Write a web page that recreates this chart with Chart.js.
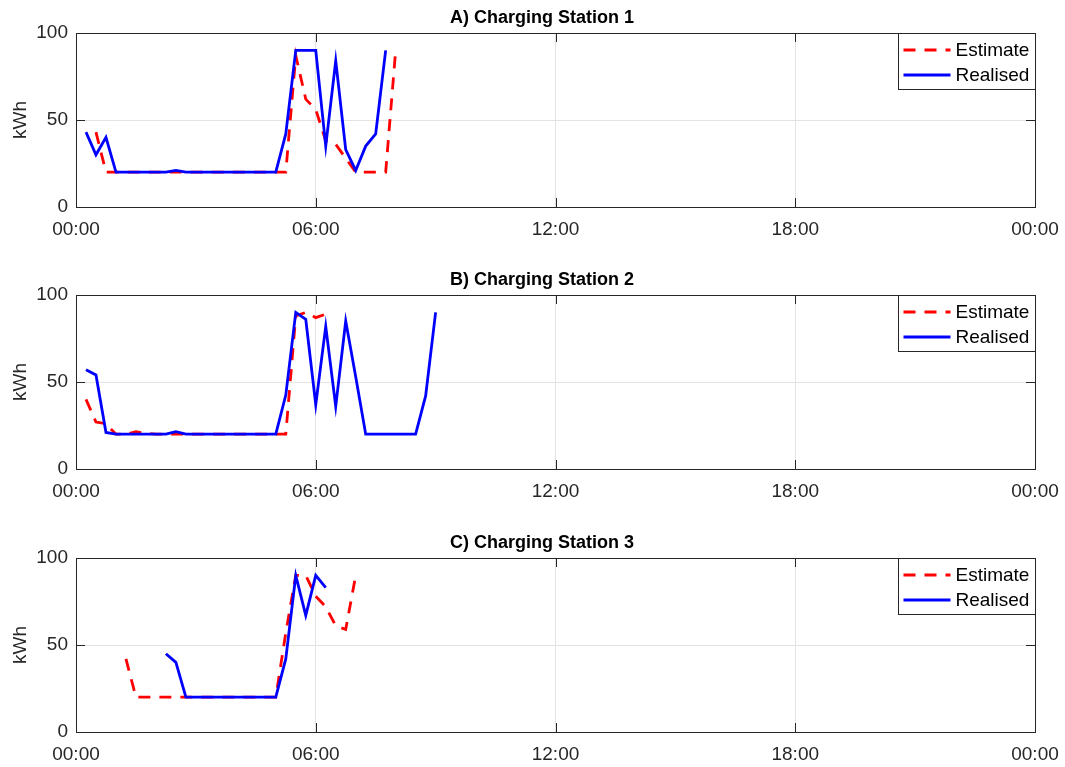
<!DOCTYPE html>
<html>
<head>
<meta charset="utf-8">
<title>Charging stations</title>
<script src="https://cdn.jsdelivr.net/npm/chart.js@4.4.1/dist/chart.umd.min.js"></script>
<style>
    html, body { margin: 0; padding: 0; background: #fff; }
    #wrap { position: relative; width: 1065px; height: 767px; }
    .panel { position: absolute; left: 0; width: 1065px; height: 241px; }
</style>
</head>
<body>
<div id="wrap">
    <div class="panel" style="top:0px"><canvas id="station-1"></canvas></div>
    <div class="panel" style="top:262px"><canvas id="station-2"></canvas></div>
    <div class="panel" style="top:525px"><canvas id="station-3"></canvas></div>
</div>
<script>
// quarter-hour time stamps of the first nine hours
const times = ['00:15', '00:30', '00:45', '01:00', '01:15', '01:30', '01:45', '02:00', '02:15',
    '02:30', '02:45', '03:00', '03:15', '03:30', '03:45', '04:00', '04:15', '04:30', '04:45',
    '05:00', '05:15', '05:30', '05:45', '06:00', '06:15', '06:30', '06:45', '07:00', '07:15',
    '07:30', '07:45', '08:00', '08:15', '08:30', '08:45', '09:00'];

const xTicks = [0, 6, 12, 18, 24];
const xTickLabels = ['00:00', '06:00', '12:00', '18:00', '00:00'];
const yTicks = [0, 50, 100];

const stationTitles = ['A) Charging Station 1', 'B) Charging Station 2', 'C) Charging Station 3'];
const seriesNames = ['Estimate', 'Realised'];

// kWh per quarter hour, null = no value
const station1Estimate = [null, 43, 20, 20, 20, 20, 20, 20, 20, 20, 20, 20, 20, 20, 20, 20, 20, 20,
    20, 20, 20, 87, 62, 56, 38, 36, 28, 20, 20, 20, 20, 90, null, null, null, null];
const station1Realised = [43, 30, 40, 20, 20, 20, 20, 20, 20, 21, 20, 20, 20, 20, 20, 20, 20, 20,
    20, 20, 42, 90, 90, 90, 35, 84, 33, 21, 35, 42, 90, null, null, null, null, null];

const station2Estimate = [40, 27, 26, 20, 20, 21.5, 20.5, 20, 20, 20, 20, 20, 20, 20, 20, 20, 20, 20,
    20, 20, 20, 88, 90, 87, 89, null, null, null, null, null, null, null, null, null, null, null];
const station2Realised = [57, 54, 21, 20, 20, 20, 20, 20, 20, 21.5, 20, 20, 20, 20, 20, 20, 20, 20,
    20, 20, 42.5, 90, 86, 37, 82, 36, 85, 53, 20, 20, 20, 20, 20, 20, 42, 90];

const station3Estimate = [null, null, null, null, 42, 20, 20, 20, 20, 20, 20, 20, 20, 20, 20, 20, 20, 20,
    20, 20, 57, 90, 90, 78, 72, 61, 59, 90, null, null, null, null, null, null, null, null];
const station3Realised = [null, null, null, null, null, null, null, null, 45, 40, 20, 20, 20, 20, 20, 20, 20, 20,
    20, 20, 42, 90, 67, 90, 83, null, null, null, null, null, null, null, null, null, null, null];

const FONT = "'Liberation Sans', Arial, Helvetica, sans-serif";
const AXIS_COLOR = '#262626';

function toHours(t) {
    const parts = t.split(':');
    return Number(parts[0]) + Number(parts[1]) / 60;
}

function toPoints(values) {
    return values.map((v, i) => ({ x: toHours(times[i]), y: v }));
}

// title, box around the plot area, inner tick marks and the boxed legend
const matlabAxes = {
    id: 'matlabAxes',
    afterDraw(chart, args, opts) {
        const ctx = chart.ctx;
        const a = chart.chartArea;
        const xs = chart.scales.x;
        const ys = chart.scales.y;
        const tl = 9;

        ctx.save();
        ctx.fillStyle = '#000';
        ctx.font = 'bold 18px ' + FONT;
        ctx.textAlign = 'center';
        ctx.textBaseline = 'middle';
        ctx.fillText(opts.title, opts.titleX, a.top - 15);

        ctx.strokeStyle = AXIS_COLOR;
        ctx.lineWidth = 1;
        ctx.beginPath();
        xTicks.forEach(v => {
            const px = Math.round(xs.getPixelForValue(v)) + 0.5;
            ctx.moveTo(px, a.bottom); ctx.lineTo(px, a.bottom - tl);
            ctx.moveTo(px, a.top); ctx.lineTo(px, a.top + tl);
        });
        yTicks.forEach(v => {
            const py = Math.round(ys.getPixelForValue(v)) + 0.5;
            ctx.moveTo(a.left, py); ctx.lineTo(a.left + tl, py);
            ctx.moveTo(a.right, py); ctx.lineTo(a.right - tl, py);
        });
        ctx.stroke();
        ctx.strokeRect(Math.round(a.left) + 0.5, Math.round(a.top) + 0.5,
            Math.round(a.right - a.left), Math.round(a.bottom - a.top));

        // legend
        const bw = 137, bh = 56;
        const bx = Math.round(a.right) - bw + 0.5;
        const by = Math.round(a.top) + 0.5;
        ctx.fillStyle = '#fff';
        ctx.fillRect(bx, by, bw, bh);
        ctx.strokeRect(bx, by, bw, bh);
        ctx.font = '19px ' + FONT;
        ctx.textAlign = 'left';
        chart.data.datasets.forEach((ds, i) => {
            const cy = by + 16.5 + i * 25;
            ctx.beginPath();
            ctx.strokeStyle = ds.borderColor;
            ctx.lineWidth = ds.borderWidth;
            ctx.setLineDash(ds.borderDash || []);
            ctx.moveTo(bx + 5, cy);
            ctx.lineTo(bx + 52, cy);
            ctx.stroke();
            ctx.setLineDash([]);
            ctx.fillStyle = '#000';
            ctx.fillText(ds.label, bx + 57, cy + 1);
        });
        ctx.restore();
    }
};

function makeChart(canvasId, title, estimate, realised) {
    return new Chart(document.getElementById(canvasId), {
        type: 'line',
        data: {
            datasets: [{
                label: seriesNames[0],
                data: toPoints(estimate),
                borderColor: '#ff0000',
                borderWidth: 2.8,
                borderDash: [12, 9],
                pointRadius: 0,
                order: 1
            }, {
                label: seriesNames[1],
                data: toPoints(realised),
                borderColor: '#0000ff',
                borderWidth: 2.8,
                pointRadius: 0,
                order: 0
            }]
        },
        options: {
            responsive: true,
            maintainAspectRatio: false,
            animation: false,
            layout: { padding: { left: 0, right: 30, top: 33, bottom: 0 } },
            plugins: {
                legend: { display: false },
                tooltip: { enabled: false },
                title: { display: false },
                matlabAxes: { title: title, titleX: 542 }
            },
            scales: {
                x: {
                    type: 'linear',
                    min: 0,
                    max: 24,
                    afterFit: scale => {
                        scale.height = 34;
                        scale.paddingLeft = 0;
                        scale.paddingRight = 0;
                    },
                    afterBuildTicks: scale => { scale.ticks = xTicks.map(v => ({ value: v })); },
                    ticks: {
                        color: AXIS_COLOR,
                        font: { family: FONT, size: 19 },
                        padding: 11,
                        maxRotation: 0,
                        callback: (v) => xTickLabels[xTicks.indexOf(v)]
                    },
                    grid: { color: '#e3e3e3', drawTicks: false },
                    border: { display: false }
                },
                y: {
                    min: 0,
                    max: 100,
                    afterFit: scale => {
                        scale.width = 76;
                        scale.paddingTop = 0;
                        scale.paddingBottom = 0;
                    },
                    afterBuildTicks: scale => { scale.ticks = yTicks.map(v => ({ value: v })); },
                    ticks: {
                        color: AXIS_COLOR,
                        font: { family: FONT, size: 19 },
                        padding: 8
                    },
                    title: {
                        display: true,
                        text: 'kWh',
                        color: AXIS_COLOR,
                        font: { family: FONT, size: 19 },
                        padding: { top: 9, bottom: 0 }
                    },
                    grid: { color: '#e3e3e3', drawTicks: false },
                    border: { display: false }
                }
            }
        },
        plugins: [matlabAxes]
    });
}

makeChart('station-1', stationTitles[0], station1Estimate, station1Realised);
makeChart('station-2', stationTitles[1], station2Estimate, station2Realised);
makeChart('station-3', stationTitles[2], station3Estimate, station3Realised);
</script>
</body>
</html>
